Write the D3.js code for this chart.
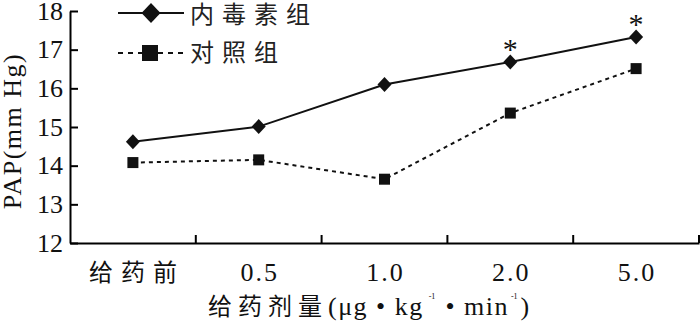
<!DOCTYPE html>
<html><head><meta charset="utf-8">
<script src="https://cdn.jsdelivr.net/npm/d3@7"></script>
<style>body{margin:0;background:#fff}svg{display:block}</style>
</head><body><svg id="c" width="700" height="328"></svg>
<script>
const categories = ["给药前", "0.5", "1.0", "2.0", "5.0"];
const endotoxin = [14.62, 15.01, 16.10, 16.68, 17.33];
const control = [14.08, 14.15, 13.65, 15.36, 16.51];
const significant = [false, false, false, true, true];
const yTicks = [12, 13, 14, 15, 16, 17, 18];
const seriesNames = ["内毒素组", "对照组"];

(function () {
const svg = d3.select("#c");
const serif = "'Liberation Serif','Times New Roman',serif";
const cjk = "'Noto Sans CJK SC',sans-serif";
const mLeft = 70, mRight = 699, mTop = 11, mBottom = 243;
const ink = "#111";

const x = d3.scaleBand().domain(categories).range([mLeft, mRight]);
const y = d3.scaleLinear().domain([12, 18]).range([mBottom, mTop]);
const isNum = d => /^[0-9.]+$/.test(d);

// y axis
const yAxis = svg.append("g").attr("transform", `translate(${mLeft},0)`)
  .call(d3.axisLeft(y).tickValues(yTicks).tickSizeInner(-8).tickSizeOuter(0).tickPadding(7).tickFormat(d3.format("d")));
yAxis.select(".domain").attr("stroke", "#000").attr("stroke-width", 2);
yAxis.selectAll(".tick line").attr("stroke", "#000").attr("stroke-width", 2);
yAxis.selectAll("text").style("font-family", serif).style("font-size", "26px").attr("fill", ink);

// x axis
const xAxis = svg.append("g").attr("transform", `translate(0,${mBottom})`)
  .call(d3.axisBottom(x).tickSize(0).tickPadding(0));
xAxis.select(".domain").attr("stroke", "#000").attr("stroke-width", 2);
xAxis.selectAll("text")
  .attr("y", 38).attr("dy", 0)
  .attr("dx", d => isNum(d) ? 1 : 4)
  .style("font-family", d => isNum(d) ? serif : cjk)
  .style("font-size", d => isNum(d) ? "26px" : "24px")
  .attr("letter-spacing", d => isNum(d) ? 2 : 8)
  .attr("fill", ink);
// boundary ticks (inward)
const bounds = categories.map(c => x(c)).concat([mRight]).slice(1);
svg.append("g").selectAll("line").data(bounds).join("line")
  .attr("x1", d => d).attr("x2", d => d).attr("y1", mBottom).attr("y2", mBottom - 8)
  .attr("stroke", "#000").attr("stroke-width", 2);

const cx = d => x(d) + x.bandwidth() / 2;
const line = d3.line().x(d => cx(d[0])).y(d => y(d[1]));

// control (dashed)
svg.append("path").datum(categories.map((c, i) => [c, control[i]]))
  .attr("d", line).attr("fill", "none").attr("stroke", ink).attr("stroke-width", 2).attr("stroke-dasharray", "4,4");
// endotoxin (solid)
svg.append("path").datum(categories.map((c, i) => [c, endotoxin[i]]))
  .attr("d", line).attr("fill", "none").attr("stroke", ink).attr("stroke-width", 2);

const diamond = (px, py, rx, ry) => `M${px},${py - ry}L${px + rx},${py}L${px},${py + ry}L${px - rx},${py}Z`;
svg.append("g").selectAll("path").data(categories).join("path")
  .attr("d", (c, i) => diamond(cx(c), y(endotoxin[i]), 7, 7.5)).attr("fill", ink);
svg.append("g").selectAll("rect").data(categories).join("rect")
  .attr("x", c => cx(c) - 5.5).attr("y", (c, i) => y(control[i]) - 5.5)
  .attr("width", 11).attr("height", 11).attr("fill", ink);

// asterisks
svg.append("g").selectAll("text").data(categories.filter((c, i) => significant[i])).join("text")
  .attr("x", c => cx(c)).attr("y", c => y(endotoxin[categories.indexOf(c)]) - 3)
  .attr("text-anchor", "middle").style("font-family", serif).style("font-size", "30px").attr("fill", ink)
  .text("*");

// legend
const lg = svg.append("g");
lg.append("line").attr("x1", 118).attr("x2", 184).attr("y1", 13).attr("y2", 13).attr("stroke", ink).attr("stroke-width", 2);
lg.append("path").attr("d", diamond(151, 13, 9.5, 10)).attr("fill", ink);
lg.append("text").attr("x", 190).attr("y", 23).style("font-family", cjk).style("font-size", "24px").attr("letter-spacing", 8).attr("fill", "#222").text(seriesNames[0]);
lg.append("line").attr("x1", 118).attr("x2", 184).attr("y1", 53).attr("y2", 53).attr("stroke", ink).attr("stroke-width", 2).attr("stroke-dasharray", "5,5");
lg.append("rect").attr("x", 142).attr("y", 45).attr("width", 16).attr("height", 16).attr("fill", ink);
lg.append("text").attr("x", 190).attr("y", 61).style("font-family", cjk).style("font-size", "24px").attr("letter-spacing", 8).attr("fill", "#222").text(seriesNames[1]);

// y title
svg.append("text").attr("transform", "translate(21,131) rotate(-90)").attr("text-anchor", "middle")
  .style("font-family", serif).style("font-size", "26px").attr("letter-spacing", 1.5).attr("fill", ink).text("PAP(mm Hg)");

// x title
const xt = svg.append("text").attr("x", 208).attr("y", 315).attr("fill", ink);
xt.append("tspan").style("font-family", cjk).style("font-size", "24px").attr("letter-spacing", 6).text("给药剂量");
xt.append("tspan").style("font-family", serif).style("font-size", "26px").attr("letter-spacing", 1.5).text("(μg • kg");
xt.append("tspan").style("font-family", serif).style("font-size", "8px").attr("dx", 5).attr("dy", -16).text("-1");
xt.append("tspan").style("font-family", serif).style("font-size", "26px").attr("letter-spacing", 1.5).attr("dx", 2).attr("dy", 16).text(" • min");
xt.append("tspan").style("font-family", serif).style("font-size", "8px").attr("dx", 2).attr("dy", -16).text("-1");
xt.append("tspan").style("font-family", serif).style("font-size", "26px").attr("dx", 3).attr("dy", 16).text(")");
})();
</script></body></html>
